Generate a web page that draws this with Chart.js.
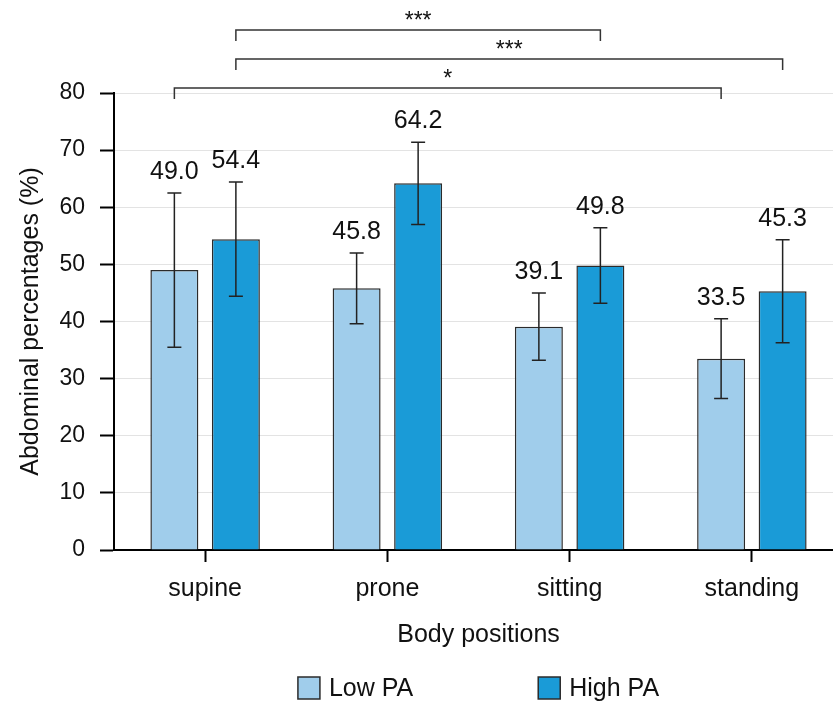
<!DOCTYPE html>
<html><head><meta charset="utf-8">
<style>html,body{margin:0;padding:0;background:#fff;overflow:hidden;}</style>
<script src="https://cdn.jsdelivr.net/npm/chart.js@4.4.1/dist/chart.umd.min.js"></script>
</head><body>
<canvas id="c" width="850" height="702" style="width:850px;height:702px;display:block"></canvas>
<script>
const categories = ['supine', 'prone', 'sitting', 'standing'];
const seriesNames = ['Low PA', 'High PA'];
const lowPA = [49.0, 45.8, 39.1, 33.5];
const highPA = [54.4, 64.2, 49.8, 45.3];
const lowPAErr = [13.5, 6.2, 5.9, 7.0];
const highPAErr = [10.0, 7.2, 6.6, 9.0];
const yTicks = [0, 10, 20, 30, 40, 50, 60, 70, 80];
const valueLabels = [['49.0', '45.8', '39.1', '33.5'], ['54.4', '64.2', '49.8', '45.3']];
// significance brackets: [datasetIndex, categoryIndex] pairs
const bracketFrom = [[1, 0], [1, 0], [0, 0]];
const bracketTo = [[1, 2], [1, 3], [0, 3]];
const bracketLabels = ['***', '***', '*'];

const FONT = '"Liberation Sans", Arial, Helvetica, sans-serif';
const LIGHT = '#a0cdeb';
const DARK = '#1a9bd7';
const EDGE = '#2b2b2b';
Chart.defaults.font.family = FONT;
Chart.defaults.color = '#111';

const overlay = {
  id: 'overlay',
  afterDatasetsDraw(chart) {
    const ctx = chart.ctx, ys = chart.scales.y;
    const vals = [lowPA, highPA], errs = [lowPAErr, highPAErr];
    ctx.save();
    chart.data.datasets.forEach((ds, di) => {
      const meta = chart.getDatasetMeta(di);
      meta.data.forEach((bar, i) => {
        const x = bar.x, v = vals[di][i], e = errs[di][i];
        const yt = ys.getPixelForValue(v + e), yb = ys.getPixelForValue(v - e);
        ctx.strokeStyle = '#222'; ctx.lineWidth = 1.5;
        ctx.beginPath();
        ctx.moveTo(x, yt); ctx.lineTo(x, yb);
        ctx.moveTo(x - 7, yt); ctx.lineTo(x + 7, yt);
        ctx.moveTo(x - 7, yb); ctx.lineTo(x + 7, yb);
        ctx.stroke();
        ctx.fillStyle = '#111';
        ctx.font = '25px ' + FONT;
        ctx.textAlign = 'center'; ctx.textBaseline = 'alphabetic';
        ctx.fillText(valueLabels[di][i], x, yt - 14);
      });
    });
    ctx.restore();
  },
  afterDraw(chart) {
    const ctx = chart.ctx, area = chart.chartArea;
    ctx.save();
    // significance brackets
    const levels = [-63, -34, -5];
    ctx.strokeStyle = '#333'; ctx.lineWidth = 1.5;
    bracketLabels.forEach((lab, k) => {
      const a = chart.getDatasetMeta(bracketFrom[k][0]).data[bracketFrom[k][1]];
      const b = chart.getDatasetMeta(bracketTo[k][0]).data[bracketTo[k][1]];
      const yy = area.top + levels[k];
      ctx.beginPath();
      ctx.moveTo(a.x, yy + 11); ctx.lineTo(a.x, yy); ctx.lineTo(b.x, yy); ctx.lineTo(b.x, yy + 11);
      ctx.stroke();
      ctx.fillStyle = '#111';
      ctx.font = '23px ' + FONT;
      ctx.textAlign = 'center'; ctx.textBaseline = 'middle';
      ctx.fillText(lab, (a.x + b.x) / 2, yy - 8);
    });
    // legend
    ctx.font = '25px ' + FONT;
    const box = 22, gap = 9, spacing = 125;
    const items = chart.data.datasets.map(ds => ({ text: ds.label, color: ds.backgroundColor, w: box + gap + ctx.measureText(ds.label).width }));
    const total = items.reduce((s, it) => s + it.w, 0) + spacing * (items.length - 1);
    let x = (area.left + area.right) / 2 - total / 2;
    const ly = 677;
    items.forEach(it => {
      ctx.fillStyle = it.color;
      ctx.fillRect(x, ly, box, box);
      ctx.strokeStyle = EDGE; ctx.lineWidth = 1.5;
      ctx.strokeRect(x, ly, box, box);
      ctx.fillStyle = '#111';
      ctx.textAlign = 'left'; ctx.textBaseline = 'middle';
      ctx.fillText(it.text, x + box + gap, ly + box / 2 + 1);
      x += it.w + spacing;
    });
    ctx.restore();
  }
};

new Chart(document.getElementById('c'), {
  type: 'bar',
  data: {
    labels: categories,
    datasets: [
      { label: seriesNames[0], data: lowPA, backgroundColor: LIGHT, borderColor: EDGE, borderWidth: 1.5, categoryPercentage: 0.675, barPercentage: 0.78 },
      { label: seriesNames[1], data: highPA, backgroundColor: DARK, borderColor: EDGE, borderWidth: 1.5, categoryPercentage: 0.675, barPercentage: 0.78 }
    ]
  },
  options: {
    responsive: false,
    animation: false,
    layout: { padding: { top: 93, right: 7, left: 0, bottom: 0 } },
    plugins: { legend: { display: false }, tooltip: { enabled: false } },
    scales: {
      x: {
        grid: { offset: false, drawOnChartArea: false, drawTicks: true, tickLength: 12, tickColor: '#000', tickWidth: 2 },
        border: { color: '#000', width: 2 },
        ticks: { font: { size: 25 }, color: '#111', padding: 12 },
        title: { display: true, text: 'Body positions', font: { size: 25 }, color: '#111', padding: { top: 0, bottom: 52 } },
        afterFit(s) { s.height = 152; }
      },
      y: {
        min: 0, max: 80,
        afterBuildTicks(s) { s.ticks = yTicks.map(v => ({ value: v })); },
        grid: { color: '#e3e3e3', lineWidth: 1, tickLength: 14, tickColor: '#000', tickWidth: 2 },
        border: { color: '#000', width: 2 },
        ticks: { font: { size: 23 }, color: '#111', padding: 15 },
        title: { display: true, text: 'Abdominal percentages (%)', font: { size: 25 }, color: '#111', padding: { top: 16, bottom: 0 } },
        afterFit(s) { s.width = 114; }
      }
    }
  },
  plugins: [overlay]
});
</script>
</body></html>
